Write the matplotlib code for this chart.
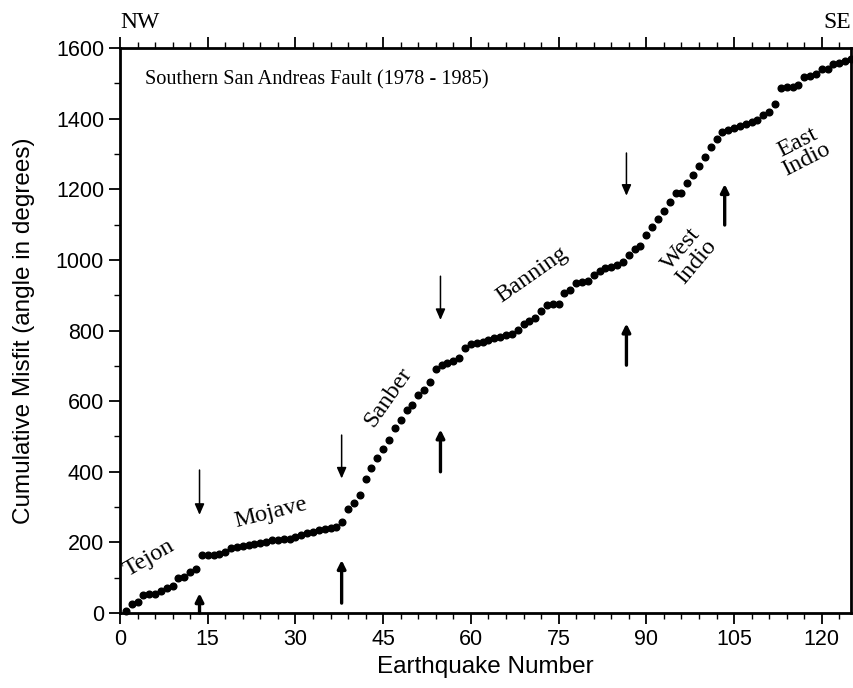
import matplotlib
matplotlib.use("Agg")
import matplotlib.pyplot as plt
from matplotlib.ticker import MultipleLocator

# ---- data ----
misfit = [5, 25, 32, 51, 53, 53, 63, 70, 77, 100, 103, 117, 125,
          164, 164, 165, 166, 174, 183, 188, 190, 193, 195, 199, 201, 207, 208,
          210, 211, 214, 221, 226, 230, 235, 239, 241, 243,
          258, 296, 313, 334, 381, 412, 440, 465, 490, 524, 546, 575, 589, 618,
          631, 655, 692,
          703, 709, 714, 721, 751, 763, 766, 769, 773, 778, 783, 787, 790, 803,
          818, 826, 837, 856, 872, 874, 875, 907, 915, 934, 938, 941, 957, 970,
          976, 981, 987, 993,
          1015, 1032, 1039, 1070, 1094, 1115, 1138, 1165, 1189, 1189, 1217, 1242,
          1266, 1292, 1319, 1342, 1363,
          1368, 1375, 1379, 1385, 1392, 1396, 1410, 1420, 1442, 1486, 1489, 1490,
          1495, 1519, 1521, 1526, 1540, 1540, 1555, 1557, 1564, 1570]
quake = list(range(1, len(misfit) + 1))

# segment boundary arrows: x position, down-arrow (start, end) and up-arrow (start, end)
boundary_x = [13.6, 37.9, 54.8, 86.6, 103.4]
down_arrows = [(405, 278), (504, 381), (954, 830), (1303, 1182), None]
up_arrows = [(0, 56), (28, 150), (400, 520), (702, 820), (1099, 1215)]

segment_labels = ["Tejon", "Mojave", "Sanber", "Banning", "West\nIndio", "East\nIndio"]
label_pos = [(5.0, 155), (25.8, 285), (45.9, 610), (70.4, 957), (97.3, 1012), (116.6, 1308)]
label_rot = [30, 14, 55, 35, 50, 27]

xticks = list(range(0, 121, 15))
yticks = list(range(0, 1601, 200))

# ---- figure ----
fig = plt.figure(figsize=(8.54, 6.88), dpi=100)
ax = fig.add_axes([0.1405, 0.109, 0.856, 0.821])

ax.plot(quake, misfit, "o", color="black", ms=4.8, clip_on=False, zorder=3)

for bx, d, u in zip(boundary_x, down_arrows, up_arrows):
    if d is not None:
        ax.annotate("", xy=(bx, d[1]), xytext=(bx, d[0]),
                    arrowprops=dict(arrowstyle="-|>,head_width=0.22,head_length=0.5",
                                    color="black", lw=1.1,
                                    mutation_scale=13, shrinkA=0, shrinkB=0))
    if u is not None:
        ax.annotate("", xy=(bx, u[1]), xytext=(bx, u[0]),
                    arrowprops=dict(arrowstyle="-|>", color="black", lw=2.4,
                                    mutation_scale=12, shrinkA=0, shrinkB=0))

serif = "Liberation Serif"
for lab, (lx, ly), rot in zip(segment_labels, label_pos, label_rot):
    ax.text(lx, ly, lab, rotation=rot, family=serif, fontsize=17.5,
            ha="center", va="center", multialignment="center",
            rotation_mode="anchor", linespacing=0.9)

ax.text(0.034, 0.944, "Southern San Andreas Fault (1978 - 1985)", transform=ax.transAxes,
        family=serif, fontsize=14.6, ha="left", va="center")
fig.text(0.141, 0.967, "NW", family=serif, fontsize=17, ha="left", va="center")
fig.text(0.996, 0.967, "SE", family=serif, fontsize=17, ha="right", va="center")

ax.set_xlim(0, 125)
ax.set_ylim(0, 1600)
ax.set_xticks(xticks)
ax.set_yticks(yticks)
ax.xaxis.set_minor_locator(MultipleLocator(3))
ax.yaxis.set_minor_locator(MultipleLocator(100))
ax.tick_params(axis="both", which="major", direction="out", length=8, width=1.3,
               labelsize=15.5)
ax.tick_params(axis="both", which="minor", direction="out", length=4.5, width=1.0)
ax.tick_params(axis="x", which="both", top=True, labeltop=False)
ax.tick_params(axis="y", which="both", right=False)
for lbl in ax.get_xticklabels() + ax.get_yticklabels():
    lbl.set_family("Liberation Sans")

for side in ["left", "bottom", "top", "right"]:
    ax.spines[side].set_linewidth(2.0)

ax.set_xlabel("Earthquake Number", family="Liberation Sans", fontsize=17.5, labelpad=4)
ax.set_ylabel("Cumulative Misfit (angle in degrees)", family="Liberation Sans",
              fontsize=17.5, labelpad=15)

fig.savefig("out.png", dpi=100)
